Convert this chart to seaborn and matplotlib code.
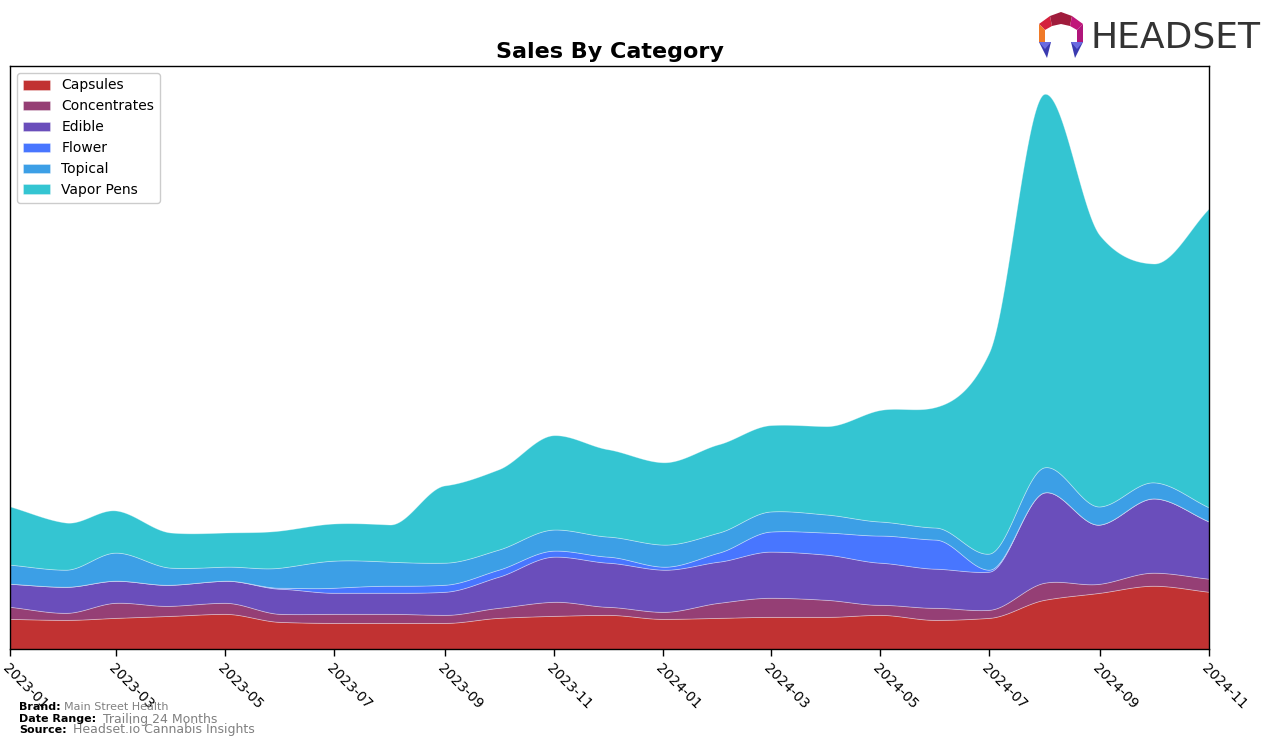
import numpy as np
import pandas as pd
import matplotlib
matplotlib.use('Agg')
import matplotlib.pyplot as plt
import matplotlib.dates as mdates
from matplotlib.patches import Polygon
import seaborn as sns

# ============================================================
# DATOS (unidades relativas)
# ============================================================
meses = pd.date_range('2023-01-01', '2024-11-01', freq='MS')

categorias = ['Capsules', 'Concentrates', 'Edible', 'Flower', 'Topical', 'Vapor Pens']

capsules     = [30, 29, 31, 33, 35, 27, 26, 26, 26, 31, 33, 34, 30, 31, 32, 32, 34, 29, 31, 49, 56, 63, 57]
concentrates = [12, 7, 15, 10, 11, 8, 9, 9, 8, 10, 14, 8, 7, 15, 19, 17, 10, 12, 8, 17, 9, 13, 13]
edible       = [23, 26, 22, 21, 22, 25, 21, 21, 23, 31, 45, 44, 42, 41, 46, 45, 42, 39, 38, 90, 59, 74, 57]
flower       = [0, 0, 0, 0, 0, 1, 5, 7, 7, 7, 6, 6, 3, 9, 20, 22, 27, 29, 2, 0, 0, 0, 0]
topical      = [19, 17, 28, 17, 14, 20, 27, 24, 22, 20, 21, 20, 22, 20, 20, 18, 14, 12, 16, 25, 18, 16, 14]
vapor_pens   = [58, 47, 42, 35, 34, 37, 37, 37, 77, 80, 94, 87, 82, 88, 86, 88, 111, 120, 200, 372, 270, 218, 298]

series = [capsules, concentrates, edible, flower, topical, vapor_pens]
colores = ['#C13232', '#953F75', '#6A4EBB', '#4876FF', '#3C9FE6', '#34C5D2']


def pchip(x, y, xn):
    # interpolacion monotona (PCHIP) sin scipy
    x = np.asarray(x, float)
    y = np.asarray(y, float)
    h = np.diff(x)
    delta = np.diff(y) / h
    n = len(x)
    d = np.zeros(n)
    for k in range(1, n - 1):
        if delta[k - 1] * delta[k] > 0:
            w1 = 2 * h[k] + h[k - 1]
            w2 = h[k] + 2 * h[k - 1]
            d[k] = (w1 + w2) / (w1 / delta[k - 1] + w2 / delta[k])
    d[0] = delta[0]
    d[-1] = delta[-1]
    idx = np.clip(np.searchsorted(x, xn) - 1, 0, n - 2)
    t = (xn - x[idx]) / h[idx]
    h00 = 2 * t**3 - 3 * t**2 + 1
    h10 = t**3 - 2 * t**2 + t
    h01 = -2 * t**3 + 3 * t**2
    h11 = t**3 - t**2
    return h00 * y[idx] + h10 * h[idx] * d[idx] + h01 * y[idx + 1] + h11 * h[idx] * d[idx + 1]


x_num = mdates.date2num(meses)
x_fino = np.linspace(x_num[0], x_num[-1], 1200)
suaves = [np.clip(pchip(x_num, s, x_fino), 0, None) for s in series]

# ============================================================
# GRAFICO
# ============================================================
sns.set_style('white')
plt.rcParams['text.color'] = 'black'
plt.rcParams['xtick.color'] = 'black'
plt.rcParams['axes.labelcolor'] = 'black'

fig = plt.figure(figsize=(12.76, 7.46), dpi=100)
ax = fig.add_axes([10 / 1276, 97 / 746, 1199 / 1276, 583 / 746])

ax.stackplot(mdates.num2date(x_fino), *suaves, labels=categorias, colors=colores,
             edgecolor=(1, 1, 1, 0.35), linewidth=0.6)

total = np.sum(suaves, axis=0)
ax.set_ylim(0, total.max() * 1.05)
ax.set_xlim(mdates.num2date(x_num[0]), mdates.num2date(x_num[-1]))
ax.set_yticks([])

ax.xaxis.set_major_locator(mdates.MonthLocator(interval=2))
ax.xaxis.set_major_formatter(mdates.DateFormatter('%Y-%m'))
ax.tick_params(axis='x', length=5, width=1, labelsize=10, direction='out', bottom=True,
               colors='black')
plt.setp(ax.get_xticklabels(), rotation=-45, ha='left', rotation_mode='anchor')

for sp in ax.spines.values():
    sp.set_visible(True)
    sp.set_color('black')
    sp.set_linewidth(1)

ax.set_title('Sales By Category', fontsize=16, fontweight='bold', pad=6, color='black')
leg = ax.legend(loc='upper left', fontsize=10, frameon=True, framealpha=1,
                edgecolor='#cccccc', borderpad=0.4, handlelength=2, bbox_to_anchor=(0.0, 1.0))
for t in leg.get_texts():
    t.set_color('black')

# pie de pagina
fig.text(19 / 1276, 1 - 707 / 746, 'Brand:', fontsize=8, fontweight='bold', va='center')
fig.text(64 / 1276, 1 - 707 / 746, 'Main Street Health', fontsize=8, color='gray', va='center')
fig.text(19 / 1276, 1 - 719 / 746, 'Date Range:', fontsize=8, fontweight='bold', va='center')
fig.text(103 / 1276, 1 - 719 / 746, 'Trailing 24 Months', fontsize=9, color='gray', va='center')
fig.text(19 / 1276, 1 - 730 / 746, 'Source:', fontsize=8, fontweight='bold', va='center')
fig.text(73 / 1276, 1 - 730 / 746, 'Headset.io Cannabis Insights', fontsize=9, color='gray', va='center')

# logo HEADSET
fig.text(1091 / 1276, 1 - 38 / 746, 'HEADSET', fontsize=26, color='#333333', va='center',
         ha='left', family='DejaVu Sans')
logo = fig.add_axes([1037 / 1276, 1 - 60 / 746, 48 / 1276, 48 / 746])
logo.set_xlim(0, 48)
logo.set_ylim(0, 48)
logo.axis('off')
piezas = [
    ([(2, 36), (13, 44), (15, 34), (8, 30)], '#D4213D'),
    ([(13, 44), (24, 48), (35, 44), (33, 34), (24, 36), (15, 34)], '#A01C3C'),
    ([(35, 44), (46, 36), (40, 30), (33, 34)], '#C0167A'),
    ([(2, 36), (8, 30), (8, 18), (2, 18)], '#F07A28'),
    ([(46, 36), (46, 18), (40, 18), (40, 30)], '#B0167A'),
    ([(2, 18), (14, 18), (10, 2)], '#3A3AB0'),
    ([(2, 18), (14, 18), (8, 11)], '#6B6BE0'),
    ([(34, 18), (46, 18), (38, 2)], '#3A3AB0'),
    ([(34, 18), (46, 18), (40, 11)], '#6B6BE0'),
]
for pts, c in piezas:
    logo.add_patch(Polygon(pts, closed=True, color=c, lw=0))

fig.savefig('out.png', dpi=100)
